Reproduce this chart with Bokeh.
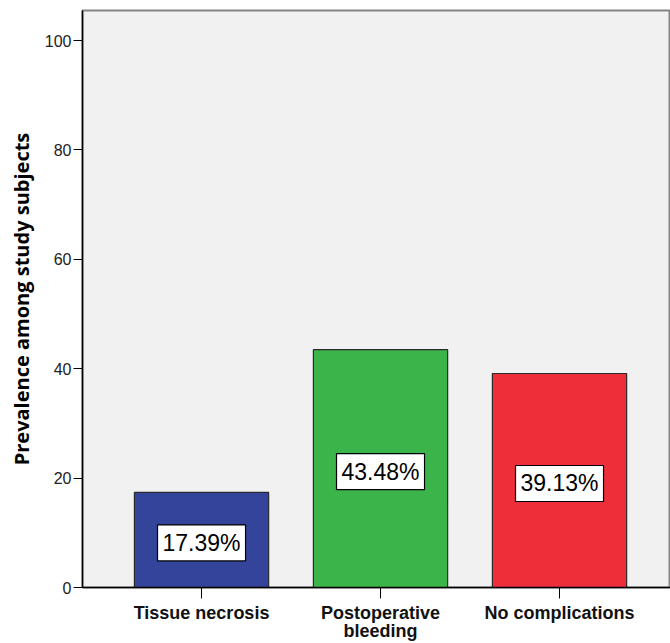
from bokeh.plotting import figure
from bokeh.models import Range1d, FixedTicker, ColumnDataSource
from bokeh.core.properties import value
from bokeh.embed import file_html
from bokeh.resources import INLINE

# Complications and their prevalence (%)
categories = ["Tissue necrosis", "Postoperative\nbleeding", "No complications"]
prevalence = [17.39, 43.48, 39.13]
bar_colors = ["#34449a", "#3bb54a", "#ee2e38"]
y_ticks = [0, 20, 40, 60, 80, 100]

idx = list(range(len(categories)))
src = ColumnDataSource(dict(
    x=idx,
    top=prevalence,
    mid=[v / 2 for v in prevalence],
    label=[f"{v:.2f}%" for v in prevalence],
    color=bar_colors,
))

p = figure(
    width=670, height=643,
    x_range=Range1d(-0.665, 2.62),
    y_range=Range1d(0, 105.5),
    output_backend="svg", toolbar_location=None,
    min_border_left=82, min_border_right=0,
    min_border_top=10, min_border_bottom=55,
)
p.background_fill_color = "#f0f1f0"
p.border_fill_color = "white"
p.outline_line_color = "#858585"
p.outline_line_width = 2
p.xgrid.visible = False
p.ygrid.visible = False

p.vbar(x="x", top="top", width=0.75, bottom=0, source=src,
       fill_color="color", line_color="#2a2a2a", line_width=1.2)

p.text(x="x", y="mid", text="label", source=src,
       text_align="center", text_baseline="middle", y_offset=3,
       text_font=value("Liberation Sans"), text_font_size="23px", text_color="black",
       background_fill_color="white", border_line_color="black", border_line_width=1.2,
       padding=5)

# y axis
ya = p.yaxis[0]
ya.ticker = FixedTicker(ticks=y_ticks)
ya.minor_tick_line_color = None
ya.major_tick_in = 0
ya.major_tick_out = 9
ya.major_tick_line_color = "black"
ya.axis_line_color = "black"
ya.axis_line_width = 1.5
ya.major_label_text_font = "Liberation Sans"
ya.major_label_text_font_size = "16px"
ya.major_label_text_color = "#222222"
ya.major_label_standoff = 2
ya.axis_label = "Prevalence among study subjects"
ya.axis_label_text_font = "Open Sans"
ya.axis_label_text_font_style = "bold"
ya.axis_label_text_font_size = "20px"
ya.axis_label_text_color = "black"
ya.axis_label_standoff = 7

# x axis
xa = p.xaxis[0]
xa.ticker = FixedTicker(ticks=idx)
xa.major_label_overrides = {i: c for i, c in zip(idx, categories)}
xa.minor_tick_line_color = None
xa.major_tick_in = 0
xa.major_tick_out = 11
xa.major_tick_line_color = "black"
xa.axis_line_color = "black"
xa.axis_line_width = 1.5
xa.major_label_text_font = "Liberation Sans"
xa.major_label_text_font_style = "bold"
xa.major_label_text_font_size = "18px"
xa.major_label_text_color = "#111111"
xa.major_label_text_line_height = 0.92
xa.major_label_standoff = 4

open("out.html", "w").write(file_html(p, INLINE))
